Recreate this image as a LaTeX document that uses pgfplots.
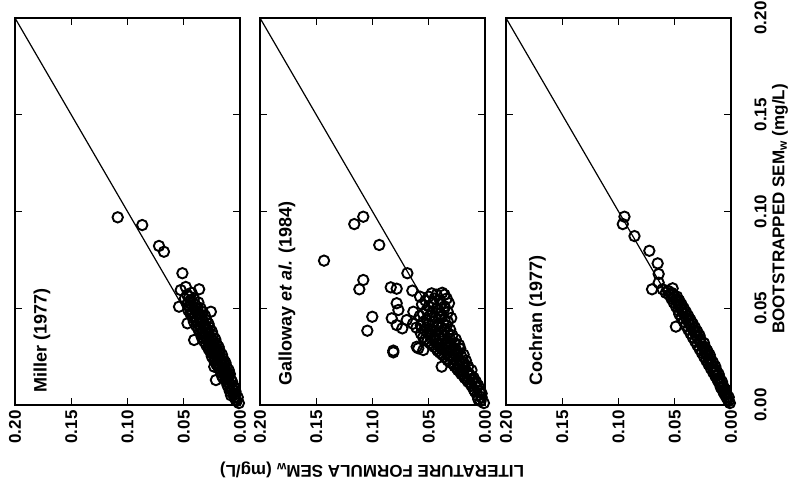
\documentclass[border=0pt]{standalone}
\usepackage{pgfplots}
\pgfplotsset{compat=1.18}
\usepackage{fontspec}
\setmainfont{Liberation Sans}

\pgfplotstableread{
lit boot
0.001 0.001
0.003 0.002
0.002 0.004
0.005 0.004
0.008 0.005
0.004 0.007
0.007 0.008
0.010 0.009
0.006 0.010
0.009 0.011
0.012 0.012
0.008 0.013
0.011 0.014
0.015 0.014
0.009 0.016
0.013 0.016
0.017 0.017
0.010 0.018
0.014 0.019
0.019 0.019
0.012 0.020
0.016 0.021
0.021 0.021
0.013 0.022
0.018 0.023
0.023 0.023
0.015 0.024
0.020 0.025
0.025 0.025
0.016 0.026
0.021 0.027
0.026 0.027
0.018 0.028
0.023 0.029
0.028 0.029
0.019 0.030
0.025 0.031
0.030 0.031
0.021 0.032
0.027 0.033
0.032 0.033
0.022 0.034
0.028 0.035
0.034 0.035
0.024 0.036
0.030 0.037
0.035 0.037
0.025 0.038
0.031 0.039
0.037 0.039
0.027 0.040
0.033 0.041
0.039 0.041
0.028 0.042
0.035 0.043
0.041 0.043
0.030 0.044
0.036 0.045
0.042 0.045
0.031 0.046
0.038 0.047
0.044 0.047
0.033 0.048
0.040 0.049
0.046 0.049
0.035 0.050
0.042 0.051
0.047 0.052
0.037 0.053
0.044 0.054
0.049 0.055
0.004 0.003
0.006 0.006
0.009 0.007
0.005 0.009
0.011 0.010
0.007 0.012
0.013 0.013
0.010 0.015
0.016 0.015
0.012 0.017
0.015 0.018
0.018 0.020
0.014 0.021
0.020 0.022
0.016 0.023
0.022 0.024
0.018 0.025
0.023 0.026
0.019 0.027
0.025 0.028
0.021 0.029
0.027 0.030
0.023 0.031
0.028 0.032
0.024 0.033
0.030 0.034
0.026 0.035
0.032 0.036
0.028 0.037
0.033 0.038
0.029 0.039
0.035 0.040
0.031 0.041
0.037 0.042
0.033 0.043
0.039 0.044
0.034 0.045
0.040 0.046
0.036 0.047
0.042 0.048
0.038 0.050
0.045 0.051
0.040 0.052
0.046 0.053
0.041 0.055
0.045 0.056
0.047 0.057
0.043 0.058
0.1087 0.0970
0.0869 0.0930
0.0720 0.0822
0.0676 0.0792
0.0512 0.0681
0.0363 0.0598
0.0527 0.0594
0.0482 0.0610
0.0542 0.0508
0.0467 0.0422
0.0259 0.0482
0.0408 0.0336
0.0229 0.0301
0.0229 0.0198
0.0214 0.0129
}\miller

\pgfplotstableread{
lit boot
0.001 0.001
0.004 0.002
0.003 0.004
0.007 0.005
0.005 0.007
0.009 0.007
0.007 0.009
0.012 0.010
0.009 0.011
0.015 0.012
0.011 0.013
0.018 0.014
0.013 0.015
0.021 0.016
0.016 0.017
0.024 0.018
0.018 0.019
0.027 0.020
0.020 0.021
0.031 0.022
0.025 0.022
0.017 0.023
0.034 0.024
0.028 0.024
0.021 0.025
0.038 0.026
0.031 0.026
0.024 0.027
0.042 0.028
0.035 0.028
0.026 0.029
0.045 0.030
0.038 0.030
0.030 0.031
0.023 0.031
0.049 0.032
0.041 0.032
0.033 0.033
0.026 0.034
0.053 0.034
0.045 0.035
0.036 0.036
0.029 0.036
0.057 0.037
0.048 0.038
0.039 0.038
0.031 0.039
0.061 0.040
0.052 0.040
0.043 0.041
0.034 0.041
0.064 0.042
0.055 0.043
0.046 0.043
0.036 0.044
0.030 0.045
0.058 0.046
0.049 0.046
0.040 0.047
0.033 0.048
0.052 0.049
0.043 0.050
0.036 0.051
0.056 0.052
0.046 0.053
0.040 0.054
0.034 0.055
0.050 0.056
0.043 0.057
0.038 0.058
0.006 0.003
0.003 0.006
0.010 0.008
0.006 0.010
0.013 0.011
0.008 0.012
0.016 0.013
0.010 0.014
0.019 0.015
0.014 0.016
0.022 0.017
0.012 0.018
0.020 0.018
0.025 0.019
0.015 0.020
0.023 0.020
0.028 0.021
0.019 0.022
0.033 0.023
0.023 0.023
0.030 0.025
0.036 0.025
0.026 0.026
0.019 0.026
0.040 0.027
0.033 0.027
0.028 0.028
0.022 0.029
0.043 0.029
0.037 0.029
0.032 0.030
0.047 0.031
0.040 0.031
0.027 0.032
0.035 0.032
0.051 0.033
0.044 0.033
0.031 0.034
0.038 0.034
0.055 0.035
0.048 0.036
0.041 0.036
0.033 0.037
0.051 0.037
0.044 0.038
0.036 0.039
0.054 0.039
0.047 0.039
0.039 0.040
0.057 0.041
0.050 0.042
0.041 0.042
0.033 0.043
0.052 0.044
0.044 0.045
0.038 0.046
0.055 0.047
0.047 0.048
0.041 0.049
0.036 0.050
0.050 0.051
0.039 0.052
0.053 0.054
0.045 0.055
0.036 0.057
0.1431 0.0746
0.1162 0.0935
0.1082 0.0973
0.0940 0.0827
0.1117 0.0598
0.1082 0.0646
0.1002 0.0456
0.1046 0.0384
0.0815 0.0281
0.0815 0.0272
0.0690 0.0681
0.0838 0.0608
0.0785 0.0601
0.0646 0.0591
0.0474 0.0577
0.0320 0.0526
0.0578 0.0560
0.0785 0.0526
0.0770 0.0491
0.0829 0.0448
0.0785 0.0413
0.0735 0.0396
0.0637 0.0482
0.0696 0.0439
0.0593 0.0293
0.0548 0.0284
0.0607 0.0301
0.0385 0.0198
0.0222 0.0293
}\galloway

\pgfplotstableread{
lit boot
0.001 0.001
0.003 0.003
0.002 0.004
0.005 0.005
0.004 0.006
0.007 0.007
0.005 0.008
0.009 0.009
0.007 0.010
0.010 0.011
0.008 0.012
0.012 0.013
0.010 0.014
0.014 0.015
0.011 0.016
0.016 0.017
0.013 0.018
0.018 0.019
0.014 0.020
0.020 0.021
0.016 0.022
0.022 0.023
0.018 0.024
0.024 0.025
0.019 0.026
0.026 0.027
0.021 0.028
0.028 0.029
0.023 0.030
0.030 0.031
0.024 0.032
0.032 0.033
0.027 0.034
0.034 0.035
0.028 0.036
0.036 0.037
0.030 0.038
0.038 0.039
0.032 0.040
0.040 0.041
0.034 0.042
0.042 0.043
0.036 0.044
0.044 0.045
0.038 0.046
0.046 0.047
0.040 0.048
0.047 0.049
0.042 0.050
0.049 0.051
0.044 0.052
0.051 0.053
0.046 0.054
0.053 0.055
0.048 0.056
0.055 0.057
0.002 0.002
0.004 0.004
0.006 0.006
0.006 0.008
0.008 0.009
0.009 0.011
0.011 0.012
0.011 0.014
0.013 0.015
0.014 0.017
0.015 0.018
0.016 0.020
0.018 0.021
0.019 0.023
0.020 0.024
0.021 0.026
0.023 0.027
0.024 0.029
0.025 0.030
0.027 0.032
0.028 0.033
0.030 0.035
0.031 0.036
0.032 0.038
0.034 0.039
0.035 0.041
0.037 0.042
0.038 0.044
0.040 0.045
0.041 0.047
0.043 0.048
0.044 0.050
0.046 0.051
0.047 0.053
0.049 0.054
0.050 0.056
0.052 0.057
0.053 0.058
0.056 0.059
0.058 0.058
0.0608 0.0598
0.0519 0.0603
0.0490 0.0405
0.0947 0.0973
0.0962 0.0935
0.0858 0.0873
0.0726 0.0797
0.0652 0.0732
0.0643 0.0677
0.0702 0.0598
0.0643 0.0632
}\cochran

\tikzset{plab/.style={rotate=90, anchor=west, font=\fontsize{18}{18}\selectfont\bfseries}}
\pgfplotsset{
  panel/.style={
    scale only axis, width=225pt, height=387pt, anchor=south west,
    xmin=0, xmax=0.2, ymin=0, ymax=0.2, x dir=reverse,
    xtick={0,0.05,0.1,0.15,0.2}, ytick={0,0.05,0.1,0.15,0.2},
    tick align=inside, major tick length=7pt,
    tick style={line width=1.3pt, black},
    axis line style={line width=1.6pt},
    scaled ticks=false,
    /pgf/number format/assume math mode=true,
    xticklabel style={/pgf/number format/fixed, /pgf/number format/fixed zerofill,
      /pgf/number format/precision=2,
      yshift=-2pt, rotate=90, anchor=east, font=\fontsize{17}{17}\selectfont\bfseries},
  },
  pts/.style={only marks, mark=o, mark size=5.2pt, mark options={line width=1.9pt}, black},
  diag/.style={no marks, line width=1.2pt, black},
}

\begin{document}
\begin{tikzpicture}[x=1pt,y=1pt]
\path[use as bounding box] (0,0) rectangle (791,490);

\begin{axis}[panel, at={(15pt,85pt)}, yticklabels={}]
  \addplot[diag] coordinates {(0,0) (0.2,0.2)};
  \addplot[pts] table[x=lit,y=boot] {\miller};
  \node[plab] at (axis cs:0.176,0.0047) {Miller (1977)};
\end{axis}

\begin{axis}[panel, at={(260pt,85pt)}, yticklabels={}]
  \addplot[diag] coordinates {(0,0) (0.2,0.2)};
  \addplot[pts] table[x=lit,y=boot] {\galloway};
  \node[plab] at (axis cs:0.176,0.0083) {Galloway \textit{et al.} (1984)};
\end{axis}

\begin{axis}[panel, at={(506pt,85pt)},
  yticklabel pos=right,
  yticklabel style={/pgf/number format/fixed, /pgf/number format/fixed zerofill,
      /pgf/number format/precision=2,
      xshift=20pt, rotate=90, anchor=north, font=\fontsize{17}{17}\selectfont\bfseries}]
  \addplot[diag] coordinates {(0,0) (0.2,0.2)};
  \addplot[pts] table[x=lit,y=boot] {\cochran};
  \node[plab] at (axis cs:0.172,0.0083) {Cochran (1977)};
\end{axis}

\node[rotate=180, font=\fontsize{17}{17}\selectfont\bfseries] at (372,20) {LITERATURE FORMULA SEM\textsubscript{w} (mg/L)};
\node[rotate=90, font=\fontsize{17}{17}\selectfont\bfseries] at (780,281) {BOOTSTRAPPED SEM\textsubscript{w} (mg/L)};
\end{tikzpicture}
\end{document}
